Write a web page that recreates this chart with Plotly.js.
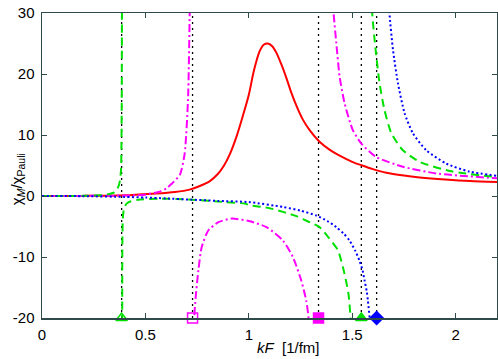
<!DOCTYPE html>
<html>
<head>
<meta charset="utf-8">
<script src="https://cdn.plot.ly/plotly-3.0.1.min.js"></script>
<style>html,body{margin:0;padding:0;background:#fff;}#chart{width:498px;height:359px;}</style>
</head>
<body>
<div id="chart"></div>
<script>
// Red solid curve
const redK = [0,0.2,0.4,0.48,0.55,0.643,0.714,0.76,0.81,0.85,0.88,0.91,0.94,0.97,1.0,1.025,1.052,1.072,1.092,1.112,1.133,1.157,1.181,1.205,1.23,1.26,1.294,1.342,1.39,1.439,1.5,1.544,1.6,1.665,1.75,1.826,1.95,2.07,2.2];
const redV = [0,0.02,0.12,0.28,0.4,0.66,1.05,1.6,2.4,3.6,5.0,7.0,9.7,13.0,16.6,20.6,23.7,24.8,25.0,24.6,23.5,21.6,19.4,17.0,14.8,12.6,10.8,8.9,7.6,6.6,5.6,5.05,4.4,3.8,3.35,3.05,2.7,2.45,2.3];

// Blue dotted curve (null separates branches)
const blueK = [0,0.2,0.4,0.5,0.6,0.724,0.85,1.0,1.165,1.25,1.326,1.38,1.423,1.46,1.487,1.515,1.535,1.55,1.56,1.57,1.576,1.584,1.589,null,1.676,1.68,1.697,1.721,1.753,1.793,1.858,1.955,2.067,2.2];
const blueV = [0,-0.03,-0.15,-0.25,-0.4,-0.6,-0.8,-1.0,-1.8,-2.4,-3.2,-4.1,-5.1,-6.2,-7.3,-9.0,-10.6,-12.2,-13.9,-15.6,-17.2,-20,-23,null,34,30,24.0,18.5,13.6,10.3,7.5,5.3,4.0,3.3];

// Green dashed curve
const greenK = [0,0.2,0.28,0.321,0.35,0.361,0.372,0.377,0.382,0.384,0.3855,0.3865,0.387,null,0.3875,0.3878,0.3885,0.391,0.397,0.409,0.43,0.466,0.563,0.65,0.724,0.885,0.981,1.004,1.1,1.165,1.23,1.294,1.342,1.39,1.431,1.463,1.482,1.492,1.497,null,1.593,1.597,1.613,1.632,1.656,1.689,1.745,1.826,1.986,2.2];
const greenV = [0,0.03,0.12,0.3,0.6,0.94,1.8,2.6,4.2,8,15,30,40,null,-25,-20,-8,-3.5,-2.0,-1.25,-0.85,-0.6,-0.45,-0.5,-0.6,-1.0,-1.25,-1.5,-2.0,-2.6,-3.3,-4.3,-5.1,-7.0,-8.9,-12.8,-16.1,-20,-24,null,35,29.8,24.0,18.5,14.1,10.3,7.5,5.6,4.0,3.1];

// Magenta dash-dot curve
const magK = [0,0.2,0.4,0.48,0.563,0.6,0.627,0.667,0.69,0.706,0.714,0.716,null,0.7345,0.736,0.743,0.756,0.772,0.804,0.853,0.917,1.0,1.085,1.165,1.213,1.254,1.278,1.289,1.293,null,1.405,1.41,1.423,1.439,1.463,1.503,1.544,1.616,1.745,1.906,2.2];
const magV = [0,0.02,0.08,0.15,0.66,1.2,2.0,3.5,7.0,15.8,30,40,null,-30,-20,-16.6,-12.2,-8.4,-5.65,-4.3,-3.7,-4.1,-5.1,-7.3,-10.0,-13.9,-17.2,-20,-23,null,35,30,25.1,19.6,15.2,10.8,8.6,6.4,4.8,3.7,2.9];

// Vertical dotted reference lines
const vlineK = [0.385,0.728,1.337,1.544,1.618];
const yLow = -20, yHigh = 30;

// Markers on the bottom axis
const markK = [0.385,0.728,1.337,1.544,1.618];
const markV = [-20,-20,-20,-20,-20];
const markSymbols = ['triangle-up-open','square-open','square','triangle-up','diamond'];
const markColors = ['#00e000','#ff00ff','#ff00ff','#00e000','#0000ff'];

const xTicks = [0,0.5,1,1.5,2];
const xTickText = ['0','0.5','1','1.5','2'];
const yTicks = [-20,-10,0,10,20,30];
const yTickText = ['-20','-10','0','10','20','30'];

const traces = [];
vlineK.forEach(k => {
  traces.push({x:[k,k], y:[yLow,yHigh], mode:'lines', line:{color:'#000', width:1.3, dash:'2px,4px'}, hoverinfo:'skip'});
});
traces.push({x:redK, y:redV, mode:'lines', line:{color:'#ff0000', width:2, shape:'spline', smoothing:0.8}});
traces.push({x:magK, y:magV, mode:'lines', connectgaps:false, line:{color:'#ff00ff', width:2, shape:'spline', smoothing:0.6, dash:'8px,3px,2px,3px'}});
traces.push({x:greenK, y:greenV, mode:'lines', connectgaps:false, line:{color:'#00e000', width:2, shape:'spline', smoothing:0.6, dash:'8px,5px'}});
traces.push({x:blueK, y:blueV, mode:'lines', connectgaps:false, line:{color:'#0000ff', width:2, shape:'spline', smoothing:0.6, dash:'2px,2.5px'}});
traces.push({x:markK, y:markV, mode:'markers', cliponaxis:false,
  marker:{symbol:markSymbols, color:markColors, size:10, line:{color:markColors, width:1.5}}});

const axisCommon = {
  showline:true, mirror:'ticks', ticks:'inside', ticklen:5, tickwidth:1,
  tickcolor:'#2f4a4a', linecolor:'#2f4a4a', linewidth:1.5,
  showgrid:false, zeroline:false,
  tickfont:{family:'Liberation Sans, Arial, sans-serif', size:15, color:'#000'}
};

const layout = {
  width:498, height:359,
  margin:{l:42, r:1, t:13, b:41},
  paper_bgcolor:'#fff', plot_bgcolor:'#fff',
  showlegend:false,
  xaxis:Object.assign({}, axisCommon, {range:[0,2.2], tickvals:xTicks, ticktext:xTickText, ticklabelstandoff:2}),
  yaxis:Object.assign({}, axisCommon, {range:[-20,30], tickvals:yTicks, ticktext:yTickText, ticklabelstandoff:3}),
  annotations:[
    {text:'<i>kF</i>  [1/fm]', xref:'x', yref:'paper', x:1.19, y:0, yshift:-29, showarrow:false,
     xanchor:'center', yanchor:'middle', font:{family:'Liberation Sans, Arial, sans-serif', size:15, color:'#000'}},
    {text:'χ<sub><i>M</i></sub>/χ<sub>Pauli</sub>', xref:'paper', yref:'paper', x:0, xshift:-25, y:0.455, showarrow:false,
     textangle:-90, xanchor:'center', yanchor:'middle', font:{family:'Liberation Sans, Arial, sans-serif', size:15, color:'#000'}}
  ]
};

Plotly.newPlot('chart', traces, layout, {displayModeBar:false, staticPlot:true});
</script>
</body>
</html>
